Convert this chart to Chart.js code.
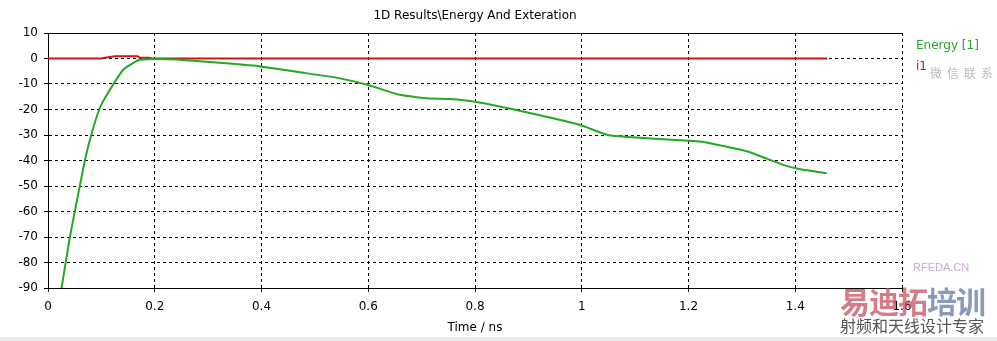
<!DOCTYPE html>
<html>
<head>
    <title>1D Results\Energy And Exteration</title>
    <style type="text/css">
        body {
            margin: 0;
            background: #fff;
            font-family: 'DejaVu Sans', sans-serif;
        }

        #wrap {
            position: relative;
            width: 997px;
            height: 341px;
            overflow: hidden;
        }

        #strip {
            position: absolute;
            left: 0;
            top: 337px;
            width: 997px;
            height: 4px;
            background: #ececec;
        }

        .mark {
            position: absolute;
            white-space: nowrap;
        }
    </style>
    <script src="https://cdn.jsdelivr.net/npm/chart.js@4.4.0/dist/chart.umd.min.js"></script>
</head>
<body>
<div id="wrap">
    <canvas id="chartContainer" width="997" height="341"></canvas>
    <div id="strip"></div>
    <div class="mark" style="left:913px;top:261px;font:11px 'Liberation Sans';color:#cfa8d8;">RFEDA.CN</div>
    <div class="mark" style="left:840px;top:283px;font:bold 30px 'Noto Sans CJK SC';line-height:34px;color:rgba(200,80,95,0.75);letter-spacing:-1px;">易迪拓<span style="color:rgba(100,120,160,0.75)">培训</span></div>
    <div class="mark" style="left:840px;top:316px;font:16px 'Noto Sans CJK SC';line-height:18px;color:#555;">射频和天线设计专家</div>
    <div class="mark" style="left:930px;top:66px;font:12px 'Noto Sans CJK SC';line-height:14px;color:#bbb;letter-spacing:5px;">微信联系</div>
</div>
<script>
    // axis ticks
    var xTicks = [0, 0.2, 0.4, 0.6, 0.8, 1, 1.2, 1.4, 1.6];
    var yTicks = [10, 0, -10, -20, -30, -40, -50, -60, -70, -80, -90];

    // Energy [1]  (time in ns, value)
    var energyTime = [0.02, 0.041, 0.054, 0.069, 0.081, 0.096, 0.11, 0.141, 0.169, 0.2, 0.24, 0.279, 0.34, 0.397,
        0.472, 0.54, 0.6, 0.656, 0.708, 0.754, 0.8, 0.892, 0.997, 1.049, 1.095, 1.193, 1.233, 1.311, 1.377, 1.41, 1.459];
    var energyValue = [-97, -70, -56, -40, -30, -20, -14.3, -4.4, -0.7, -0.2, -0.4, -1.0, -2.0, -3.1,
        -5.4, -7.5, -10.4, -14.1, -15.6, -15.9, -17.0, -20.9, -26.1, -30.0, -30.9, -32.2, -32.9, -36.5, -41.7, -43.4, -45.0];

    // i1
    var i1Time = [0, 0.1, 0.107, 0.125, 0.168, 0.172, 0.19, 0.195, 1.46];
    var i1Value = [0, 0, 0.3, 0.9, 0.9, 0.3, 0.3, 0, 0];

    function toPoints(xs, ys) {
        return xs.map((x, i) => ({ x: x, y: ys[i] }));
    }

    var FONT = 'DejaVu Sans';

    // title, legend and top border drawn at the plot area
    var decorations = {
        id: 'decorations',
        afterDraw(chart) {
            var ctx = chart.ctx;
            var area = chart.chartArea;
            ctx.save();
            ctx.strokeStyle = '#000';
            ctx.lineWidth = 1;
            ctx.beginPath();
            ctx.moveTo(area.left, Math.round(area.top) + 0.5);
            ctx.lineTo(area.right, Math.round(area.top) + 0.5);
            ctx.stroke();

            ctx.font = '12px "' + FONT + '"';
            ctx.fillStyle = '#000';
            ctx.textAlign = 'center';
            ctx.textBaseline = 'middle';
            ctx.fillText('1D Results\\Energy And Exteration', (area.left + area.right) / 2, 16);

            ctx.textAlign = 'left';
            chart.data.datasets.forEach((ds, i) => {
                ctx.fillStyle = ds.borderColor;
                ctx.fillText(ds.label, 916, 46 + i * 21);
            });
            ctx.restore();
        }
    };

    var gridStyle = {
        color: '#000',
        lineWidth: 1,
        tickColor: '#000',
        tickBorderDash: [],
        tickLength: 4
    };

    var borderStyle = { display: true, color: '#000', width: 1, dash: [3, 3] };

    new Chart(document.getElementById('chartContainer').getContext('2d'), {
        type: 'scatter',
        data: {
            datasets: [{
                label: 'Energy [1]',
                data: toPoints(energyTime, energyValue),
                showLine: true,
                borderColor: '#22aa22',
                borderWidth: 2,
                pointRadius: 0,
                tension: 0.12
            }, {
                label: 'i1',
                data: toPoints(i1Time, i1Value),
                showLine: true,
                borderColor: '#cc1515',
                borderWidth: 2,
                pointRadius: 0
            }]
        },
        options: {
            responsive: false,
            animation: false,
            layout: {
                padding: { top: 33, right: 95, bottom: 0, left: 0 }
            },
            plugins: {
                legend: { display: false },
                title: { display: false },
                tooltip: { enabled: false }
            },
            scales: {
                x: {
                    type: 'linear',
                    min: 0,
                    max: 1.6,
                    afterBuildTicks: scale => { scale.ticks = xTicks.map(v => ({ value: v })); },
                    afterFit: scale => { scale.height = 53; },
                    grid: gridStyle,
                    border: borderStyle,
                    ticks: {
                        color: '#000',
                        font: { family: FONT, size: 12 },
                        padding: 8,
                        maxRotation: 0,
                        callback: v => String(v)
                    },
                    title: {
                        display: true,
                        text: 'Time / ns',
                        color: '#000',
                        font: { family: FONT, size: 12 },
                        padding: { top: 0, bottom: 6 }
                    }
                },
                y: {
                    type: 'linear',
                    min: -90,
                    max: 10,
                    afterBuildTicks: scale => { scale.ticks = yTicks.map(v => ({ value: v })); },
                    afterFit: scale => { scale.width = 48; },
                    grid: gridStyle,
                    border: borderStyle,
                    ticks: {
                        color: '#000',
                        font: { family: FONT, size: 12 },
                        padding: 6,
                        callback: v => String(v)
                    }
                }
            }
        },
        plugins: [decorations]
    });
</script>
</body>
</html>
